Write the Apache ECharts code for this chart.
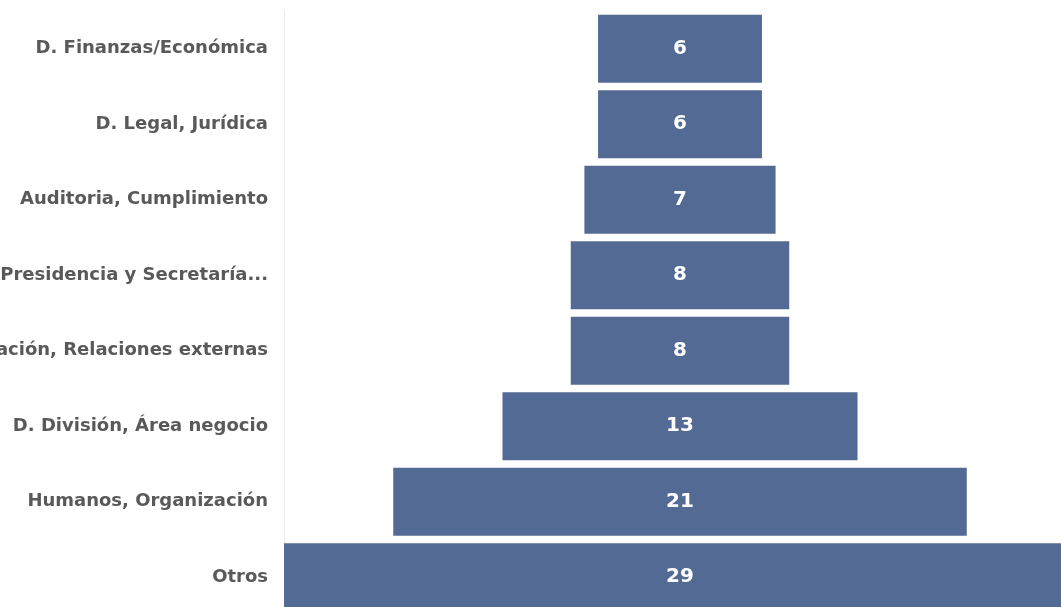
<!DOCTYPE html>
<html>
<head>
<meta charset="utf-8">
<script src="https://cdn.jsdelivr.net/npm/echarts@6/dist/echarts.min.js"></script>
<style>
html,body{margin:0;padding:0;background:#fff;}
#chart{width:1061px;height:607px;}
</style>
</head>
<body>
<div id="chart"></div>
<script>
const categories = [
  "D. Finanzas/Económica",
  "D. Legal, Jurídica",
  "Auditoria, Cumplimiento",
  "Presidencia y Secretaría...",
  "Comunicación, Relaciones externas",
  "D. División, Área negocio",
  "Humanos, Organización",
  "Otros"
];
const values = [6, 6, 7, 8, 8, 13, 21, 29];
const maxValue = 29;

const offsets = values.map(v => (maxValue - v) / 2);

const chart = echarts.init(document.getElementById('chart'));
chart.setOption({
  animation: false,
  backgroundColor: '#ffffff',
  grid: { left: 284, top: 11, width: 792, height: 604, containLabel: false, outerBoundsMode: 'none' },
  xAxis: {
    type: 'value', min: 0, max: maxValue, show: false
  },
  yAxis: {
    type: 'category',
    inverse: true,
    data: categories,
    axisLine: { show: true, lineStyle: { color: '#ececec', width: 1 } },
    axisTick: { show: false },
    axisLabel: {
      margin: 16,
      color: '#595959',
      fontFamily: 'DejaVu Sans',
      fontWeight: 'bold',
      fontSize: 18
    }
  },
  series: [
    {
      type: 'bar', stack: 'f', silent: true,
      itemStyle: { color: 'transparent' },
      data: offsets,
      barCategoryGap: '10%'
    },
    {
      type: 'bar', stack: 'f',
      itemStyle: { color: '#536a95' },
      barCategoryGap: '10%',
      data: values,
      label: {
        show: true, position: 'inside', color: '#ffffff',
        fontFamily: 'DejaVu Sans', fontWeight: 'bold', fontSize: 20
      }
    }
  ]
});
</script>
</body>
</html>
